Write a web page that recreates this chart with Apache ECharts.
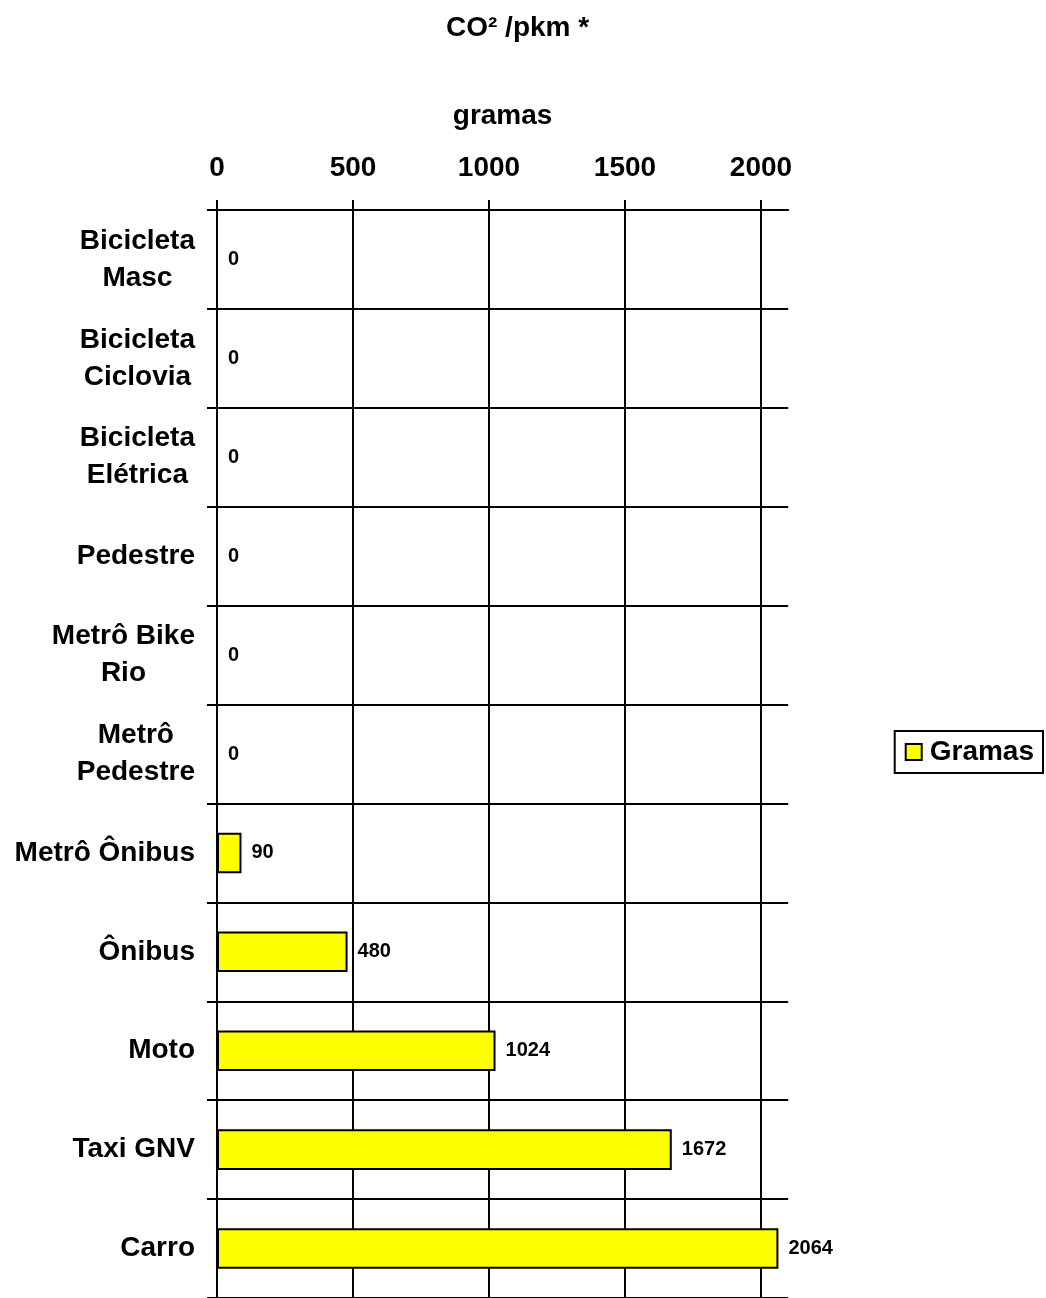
<!DOCTYPE html>
<html>
<head>
<meta charset="utf-8">
<script src="https://cdn.jsdelivr.net/npm/echarts@6/dist/echarts.min.js"></script>
<style>
html,body{margin:0;padding:0;background:#fff;}
#chart{width:1046px;height:1298px;}
</style>
</head>
<body>
<div id="chart"></div>
<script>
const categories = ["Bicicleta\nMasc","Bicicleta\nCiclovia","Bicicleta\nElétrica","Pedestre","Metrô Bike\nRio","Metrô\nPedestre","Metrô Ônibus","Ônibus","Moto","Taxi GNV","Carro"];
const values = [0,0,0,0,0,0,90,480,1024,1672,2064];
const tickValues = [0,500,1000,1500,2000];
const seriesName = "Gramas";

const FONT = "'Liberation Sans', Arial, sans-serif";
const chart = echarts.init(document.getElementById('chart'));
chart.setOption({
  animation: false,
  backgroundColor: '#fff',
  title: {
    text: 'CO² /pkm *',
    left: 441, top: 9,
    textStyle: {fontFamily: FONT, fontWeight: 'bold', fontSize: 28, color: '#000'}
  },
  legend: {
    data: [seriesName],
    right: 3, top: 731,
    orient: 'vertical',
    borderColor: '#000', borderWidth: 2,
    padding: [7, 9, 7, 10],
    itemWidth: 16, itemHeight: 16, itemGap: 6,
    icon: 'rect',
    textStyle: {fontFamily: FONT, fontWeight: 'bold', fontSize: 28, color: '#000', padding: [0,0,0,3]}
  },
  grid: {left: 217, width: 571.2, top: 210, height: 1091, containLabel: false},
  xAxis: {
    type: 'value', position: 'top',
    min: 0, max: 2100, interval: 500,
    name: 'gramas', nameLocation: 'middle', nameGap: 80,
    nameTextStyle: {fontFamily: FONT, fontWeight: 'bold', fontSize: 28, color: '#000'},
    axisLine: {show: true, lineStyle: {color: '#000', width: 2}},
    axisTick: {show: true, length: 10, inside: false, customValues: tickValues, lineStyle: {color: '#000', width: 2}},
    axisLabel: {customValues: tickValues, margin: 28, formatter: v => String(v), fontFamily: FONT, fontWeight: 'bold', fontSize: 28, color: '#000'},
    splitLine: {show: true, lineStyle: {color: '#000', width: 2}}
  },
  yAxis: {
    type: 'category', inverse: true,
    data: categories,
    boundaryGap: true,
    axisLine: {show: true, lineStyle: {color: '#000', width: 2}},
    axisTick: {show: true, length: 10, inside: false, lineStyle: {color: '#000', width: 2}},
    axisLabel: {
      margin: 22, align: 'right',
      formatter: function (v) { return v.split('\n').map(s => '{c|' + s + '}').join('\n'); },
      rich: {c: {align: 'center', fontFamily: FONT, fontWeight: 'bold', fontSize: 28, lineHeight: 37, color: '#000'}}
    },
    splitLine: {show: true, lineStyle: {color: '#000', width: 2}}
  },
  series: [{
    name: seriesName, type: 'bar',
    data: values,
    barWidth: '41%',
    itemStyle: {color: '#ffff00', borderColor: '#000', borderWidth: 2},
    label: {show: true, position: 'right', distance: 10, fontFamily: FONT, fontWeight: 'bold', fontSize: 20, color: '#000'}
  }]
});
</script>
</body>
</html>
